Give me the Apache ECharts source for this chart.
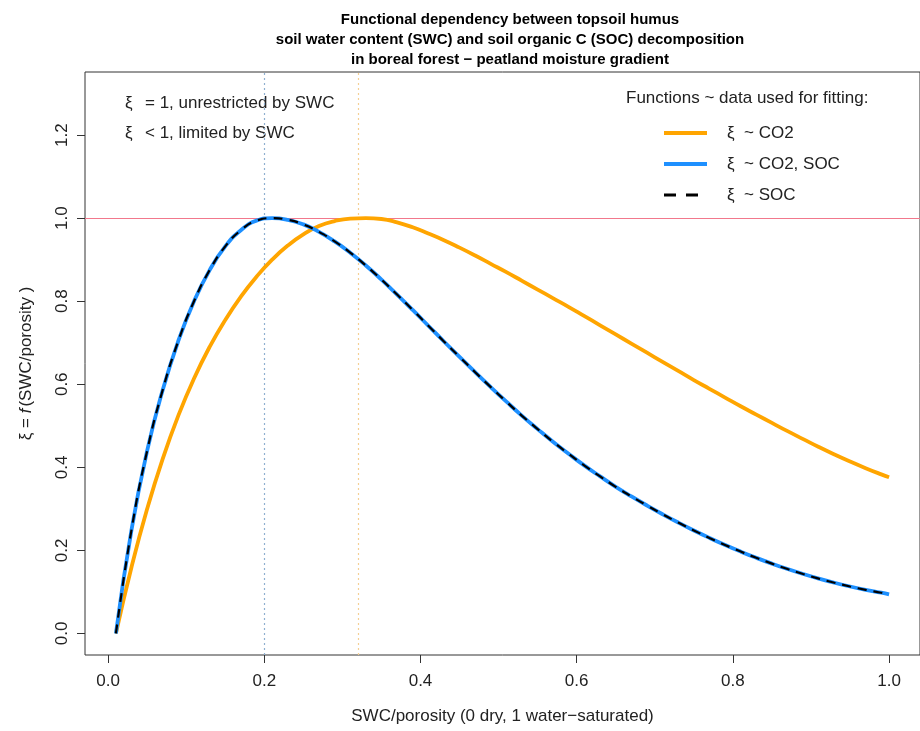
<!DOCTYPE html>
<html>
<head>
<meta charset="utf-8">
<script src="https://cdn.jsdelivr.net/npm/echarts@6/dist/echarts.min.js"></script>
<style>
  html, body { margin: 0; padding: 0; background: #fff; }
  #chart { width: 920px; height: 731px; }
</style>
</head>
<body>
<div id="chart"></div>
<script>
// Relative soil water content (SWC / porosity), evaluation grid
const swc = [0.01, 0.03, 0.05, 0.07, 0.09, 0.11, 0.13, 0.15, 0.17, 0.19,
             0.21, 0.23, 0.25, 0.27, 0.29, 0.31, 0.33, 0.35, 0.37, 0.39,
             0.41, 0.43, 0.45, 0.47, 0.49, 0.51, 0.53, 0.55, 0.57, 0.59,
             0.61, 0.63, 0.65, 0.67, 0.69, 0.71, 0.73, 0.75, 0.77, 0.79,
             0.81, 0.83, 0.85, 0.87, 0.89, 0.91, 0.93, 0.95, 0.97, 0.99, 1.00];

// Moisture response fitted to CO2 data
const xiCO2 = [0.000, 0.160, 0.300, 0.421, 0.525, 0.614, 0.690, 0.755, 0.811, 0.859,
               0.900, 0.934, 0.961, 0.981, 0.993, 0.999, 1.000, 0.998, 0.990, 0.978,
               0.963, 0.947, 0.929, 0.910, 0.890, 0.870, 0.849, 0.828, 0.807, 0.786,
               0.764, 0.742, 0.720, 0.698, 0.676, 0.654, 0.632, 0.610, 0.589, 0.568,
               0.547, 0.527, 0.507, 0.487, 0.468, 0.449, 0.431, 0.414, 0.398, 0.383, 0.376];

// Moisture response fitted to CO2 and SOC data
const xiCO2SOC = [0.000, 0.250, 0.440, 0.587, 0.705, 0.800, 0.875, 0.932, 0.971, 0.994,
                  1.000, 0.996, 0.985, 0.967, 0.944, 0.917, 0.886, 0.852, 0.816, 0.779,
                  0.741, 0.703, 0.666, 0.629, 0.593, 0.558, 0.524, 0.492, 0.461, 0.432,
                  0.404, 0.378, 0.353, 0.330, 0.308, 0.287, 0.267, 0.248, 0.230, 0.213,
                  0.197, 0.182, 0.168, 0.155, 0.143, 0.132, 0.122, 0.113, 0.105, 0.098, 0.094];

// Moisture response fitted to SOC data
const xiSOC = [0.000, 0.250, 0.440, 0.587, 0.705, 0.800, 0.875, 0.932, 0.971, 0.994,
               1.000, 0.996, 0.985, 0.967, 0.944, 0.917, 0.886, 0.852, 0.816, 0.779,
               0.741, 0.703, 0.666, 0.629, 0.593, 0.558, 0.524, 0.492, 0.461, 0.432,
               0.404, 0.378, 0.353, 0.330, 0.308, 0.287, 0.267, 0.248, 0.230, 0.213,
               0.197, 0.182, 0.168, 0.155, 0.143, 0.132, 0.122, 0.113, 0.105, 0.098, 0.094];

// Optimum SWC/porosity of each fitted function
const optCO2SOC = 0.202;
const optCO2 = 0.322;

const xTicks = [0.0, 0.2, 0.4, 0.6, 0.8, 1.0];
const yTicks = [0.0, 0.2, 0.4, 0.6, 0.8, 1.0, 1.2];

const titleLines = [
  'Functional dependency between topsoil humus',
  'soil water content (SWC) and soil organic C (SOC) decomposition',
  'in boreal forest \u2212 peatland moisture gradient'
];

const FONT = '"Liberation Sans", Arial, Helvetica, sans-serif';
const ORANGE = '#FFA500';
const BLUE = '#1E90FF';

const pairs = (ys) => swc.map((x, i) => [x, ys[i]]);

const chart = echarts.init(document.getElementById('chart'), null, { renderer: 'canvas' });

const option = {
  backgroundColor: '#ffffff',
  animation: false,
  title: {
    text: titleLines.join('\n'),
    left: 505,
    textAlign: 'center',
    top: 5,
    textStyle: { fontFamily: FONT, fontWeight: 'bold', fontSize: 15, lineHeight: 20, color: '#000' }
  },
  grid: {
    left: 85, top: 72, width: 840, height: 583,
    show: true, borderColor: '#333', borderWidth: 1, backgroundColor: 'transparent'
  },
  xAxis: {
    type: 'value',
    min: -0.0296, max: 1.0396,
    name: 'SWC/porosity (0 dry, 1 water\u2212saturated)',
    nameLocation: 'middle',
    nameGap: 53,
    nameTextStyle: { fontFamily: FONT, fontSize: 17, color: '#222' },
    axisLine: { show: false, onZero: false },
    splitLine: { show: false },
    axisTick: { show: true, customValues: xTicks, length: 8, lineStyle: { color: '#333' } },
    axisLabel: {
      customValues: xTicks, margin: 18, fontFamily: FONT, fontSize: 17, color: '#222',
      formatter: (v) => v.toFixed(1)
    }
  },
  yAxis: {
    type: 'value',
    min: -0.052, max: 1.352,
    name: '{n|\u03be = }{i|f}{n|(SWC/porosity )}',
    nameLocation: 'middle',
    nameRotate: 90,
    nameGap: 50,
    nameTextStyle: {
      fontFamily: FONT, fontSize: 17, color: '#222',
      rich: {
        n: { fontFamily: FONT, fontSize: 17, color: '#222' },
        i: { fontFamily: FONT, fontSize: 17, fontStyle: 'italic', color: '#222', padding: [0, 2, 0, 0] }
      }
    },
    axisLine: { show: false, onZero: false },
    splitLine: { show: false },
    axisTick: { show: true, customValues: yTicks, length: 8, lineStyle: { color: '#333' } },
    axisLabel: {
      customValues: yTicks, rotate: 90, margin: 14, fontFamily: FONT, fontSize: 17, color: '#222',
      formatter: (v) => v.toFixed(1)
    }
  },
  series: [
    {
      name: '\u03be ~ CO2',
      type: 'line',
      data: pairs(xiCO2),
      smooth: 0.5,
      showSymbol: false,
      lineStyle: { color: ORANGE, width: 3.8 },
      z: 3,
      markLine: {
        silent: true,
        symbol: 'none',
        label: { show: false },
        z: 1,
        data: [
          { yAxis: 1, lineStyle: { color: '#F2788C', width: 1.2, type: 'solid' } },
          { xAxis: optCO2SOC, lineStyle: { color: '#8FB0D0', width: 1.2, type: [2, 3] } },
          { xAxis: optCO2, lineStyle: { color: '#F5CF94', width: 1.2, type: [2, 3] } }
        ]
      }
    },
    {
      name: '\u03be ~ CO2, SOC',
      type: 'line',
      data: pairs(xiCO2SOC),
      smooth: 0.5,
      showSymbol: false,
      lineStyle: { color: BLUE, width: 3.8 },
      z: 4
    },
    {
      name: '\u03be ~ SOC',
      type: 'line',
      data: pairs(xiSOC),
      smooth: 0.5,
      showSymbol: false,
      lineStyle: { color: '#000', width: 2.2, type: [9, 7] },
      z: 5
    }
  ],
  graphic: [
    // explanatory notes
    { type: 'text', left: 125, top: 95, style: { text: '\u03be', font: '17px ' + FONT, fill: '#222' } },
    { type: 'text', left: 145, top: 95, style: { text: '= 1, unrestricted by SWC', font: '17px ' + FONT, fill: '#222' } },
    { type: 'text', left: 125, top: 125, style: { text: '\u03be', font: '17px ' + FONT, fill: '#222' } },
    { type: 'text', left: 145, top: 125, style: { text: '< 1, limited by SWC', font: '17px ' + FONT, fill: '#222' } },
    // legend
    { type: 'text', left: 626, top: 90, style: { text: 'Functions ~ data used for fitting:', font: '17px ' + FONT, fill: '#222' } },
    { type: 'line', shape: { x1: 664, y1: 133, x2: 707, y2: 133 }, style: { stroke: ORANGE, lineWidth: 3.8 } },
    { type: 'line', shape: { x1: 664, y1: 164, x2: 707, y2: 164 }, style: { stroke: BLUE, lineWidth: 3.8 } },
    { type: 'line', shape: { x1: 664, y1: 195, x2: 698, y2: 195 }, style: { stroke: '#000', lineWidth: 3, lineDash: [12, 10] } },
    { type: 'text', left: 727, top: 125, style: { text: '\u03be', font: '17px ' + FONT, fill: '#222' } },
    { type: 'text', left: 744, top: 125, style: { text: '~ CO2', font: '17px ' + FONT, fill: '#222' } },
    { type: 'text', left: 727, top: 156, style: { text: '\u03be', font: '17px ' + FONT, fill: '#222' } },
    { type: 'text', left: 744, top: 156, style: { text: '~ CO2, SOC', font: '17px ' + FONT, fill: '#222' } },
    { type: 'text', left: 727, top: 187, style: { text: '\u03be', font: '17px ' + FONT, fill: '#222' } },
    { type: 'text', left: 744, top: 187, style: { text: '~ SOC', font: '17px ' + FONT, fill: '#222' } }
  ]
};

chart.setOption(option);
</script>
</body>
</html>
